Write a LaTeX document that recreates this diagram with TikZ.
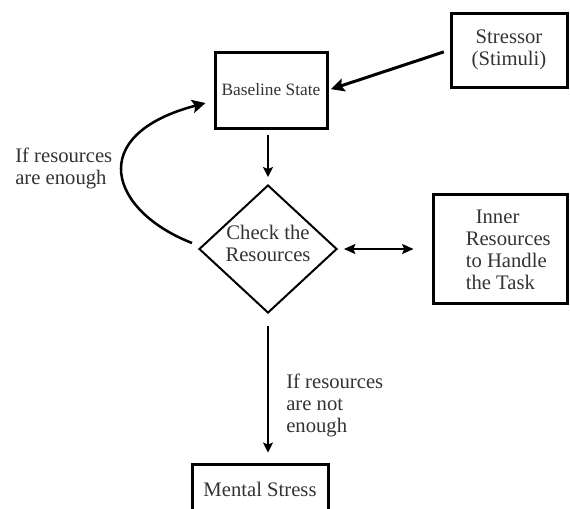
\documentclass[tikz,border=0pt]{standalone}
\usepackage{fontspec}
\setmainfont{Liberation Serif}
\usetikzlibrary{shapes.geometric,positioning}
\usetikzlibrary{arrows.meta}
\usetikzlibrary{calc}

\tikzset{
  box/.style={draw,line width=2.25pt,inner sep=0pt,align=center,text=black!80},
  decide/.style={diamond,draw,line width=1.5pt,inner sep=0pt,aspect=1.08,align=center,text=black!80},
  lbl/.style={inner sep=0pt,align=left,text=black!80},
  bigarrow/.style={line width=2.25pt,-{Stealth[length=10pt,width=10pt,inset=2pt]}},
  loopline/.style={line width=1.9pt,-{Stealth[length=10pt,width=10pt,inset=2pt]}},
  thinarrow/.style={line width=1.1pt,-{Stealth[length=7.5pt,width=7.5pt,inset=1.5pt]}},
  twoway/.style={line width=1.5pt,{Stealth[length=8.5pt,width=7.5pt,inset=1.5pt]}-{Stealth[length=8.5pt,width=7.5pt,inset=1.5pt]}}
}

\begin{document}
\begin{tikzpicture}[x=0.75pt,y=-0.75pt,font=\fontsize{15.5}{16.5}\selectfont]

\useasboundingbox (0,0) rectangle (570,508);
\clip (0,0) rectangle (570,508);

\coordinate (p1) at (509, 50);
\coordinate (p2) at (271, 90);
\coordinate (p3) at (268,249);
\coordinate (p4) at (500,248.5);
\coordinate (p5) at (260,489);

\node[box,minimum width=87pt,minimum height=55.5pt] (stressor) at (p1) {Stressor\\(Stimuli)};
\node[box,minimum width=84pt,minimum height=57pt,font=\fontsize{13}{14}\selectfont] (base) at (p2) {Baseline State};
\node[decide,minimum width=103.5pt,minimum height=96pt,text depth=9pt] (check) at (p3) {Check the\\Resources};
\node[box,minimum width=100.5pt,minimum height=81.75pt] (inner) at (p4) {};
\node[lbl,anchor=west] (innertext) at ($(inner.west)+(34,1)$) {\hspace*{7.5pt}Inner\\Resources\\to Handle\\the Task};
\node[box,minimum width=102pt,minimum height=37.5pt] (mental) at (p5) {Mental Stress};

\node[lbl,anchor=west] (enough) at (15,168) {If resources\\are enough};
\node[lbl,anchor=west] (notenough) at (286,405) {If resources\\are not\\enough};

\draw[bigarrow,shorten <=4.5pt,shorten >=2pt] (stressor.west) -- (base.east);
\draw[thinarrow,shorten <=3.75pt,shorten >=5.25pt] (check.north |- base.south) -- (check.north);
\draw[twoway,shorten <=4.5pt,shorten >=13.5pt] (check.east) -- (inner.west |- check.east);
\draw[thinarrow,shorten <=9pt,shorten >=7.5pt] (check.south) -- (check.south |- mental.north);

\draw[loopline] ($(check.west)+(-6,-6)$) .. controls (110,211) and (84,135) .. ($(base.west)+(-8,13)$);

\end{tikzpicture}
\end{document}
